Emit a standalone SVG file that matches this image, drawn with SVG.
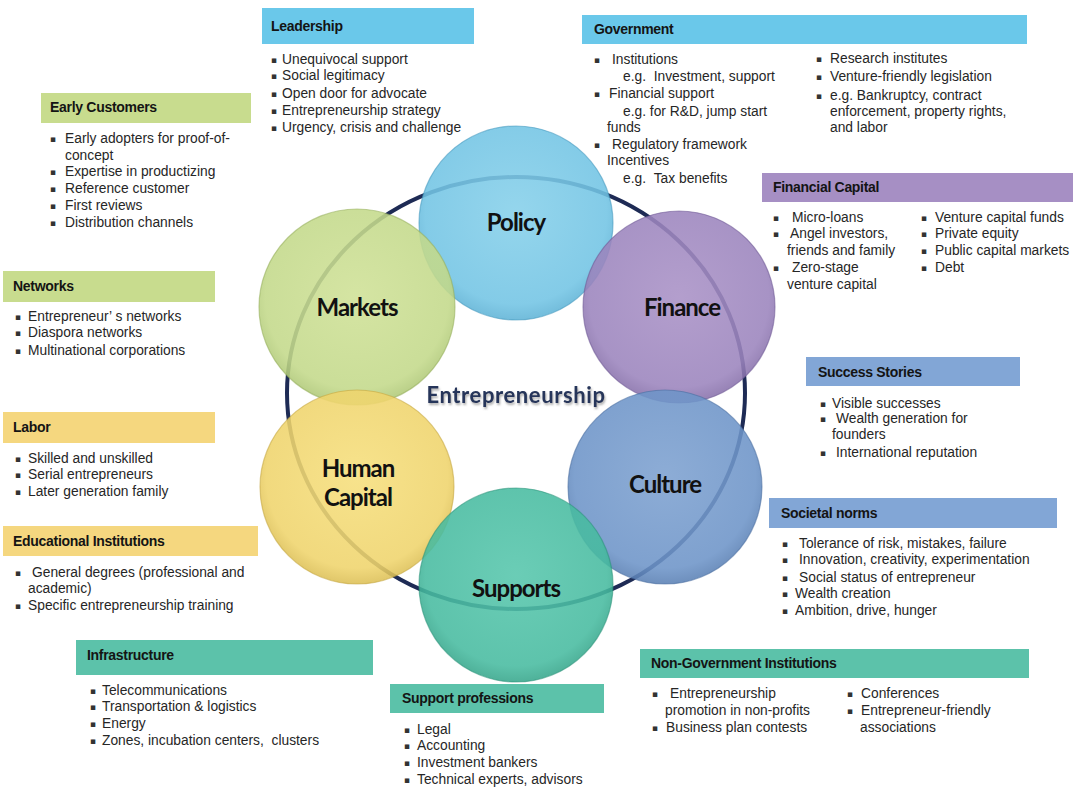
<svg xmlns="http://www.w3.org/2000/svg" width="1073" height="787" viewBox="0 0 1073 787">
<style>
.t{font-family:"Liberation Sans",Arial,sans-serif;font-size:13.8px;fill:#262626}
.b{font-family:"DejaVu Sans",sans-serif;font-size:9px;fill:#333}
.h{font-family:"Liberation Sans",Arial,sans-serif;font-size:14px;font-weight:bold;fill:#141414;letter-spacing:-0.3px}
.c{font-family:Lato,"Open Sans",sans-serif;font-size:24px;font-weight:bold;fill:#111;text-anchor:middle;letter-spacing:-1px}
.e{font-family:Lato,"Open Sans",sans-serif;font-size:22px;font-weight:bold;fill:#26365a;text-anchor:middle;letter-spacing:0.6px}
.circ{fill-opacity:0.88;stroke-width:1.2;stroke-opacity:0.55}
</style>
<defs>
<radialGradient id="gPol" cx="50%" cy="45%" r="55%"><stop offset="0" stop-color="#86d0ea"/><stop offset="0.85" stop-color="#72c4e4"/><stop offset="1" stop-color="#5fb3d6"/></radialGradient>
<radialGradient id="gMar" cx="50%" cy="45%" r="55%"><stop offset="0" stop-color="#cfe196"/><stop offset="0.85" stop-color="#c3d98a"/><stop offset="1" stop-color="#afc877"/></radialGradient>
<radialGradient id="gFin" cx="50%" cy="45%" r="55%"><stop offset="0" stop-color="#a991c6"/><stop offset="0.85" stop-color="#9b84bd"/><stop offset="1" stop-color="#8770aa"/></radialGradient>
<radialGradient id="gHum" cx="50%" cy="45%" r="55%"><stop offset="0" stop-color="#f6df7c"/><stop offset="0.85" stop-color="#efd46c"/><stop offset="1" stop-color="#dcbf55"/></radialGradient>
<radialGradient id="gCul" cx="50%" cy="45%" r="55%"><stop offset="0" stop-color="#7da1d0"/><stop offset="0.85" stop-color="#6d94c8"/><stop offset="1" stop-color="#5a80b4"/></radialGradient>
<radialGradient id="gSup" cx="50%" cy="45%" r="55%"><stop offset="0" stop-color="#56c6ac"/><stop offset="0.85" stop-color="#47bba0"/><stop offset="1" stop-color="#36a68b"/></radialGradient>
<filter id="sh" x="-10%" y="-30%" width="120%" height="160%"><feDropShadow dx="1" dy="2" stdDeviation="1.2" flood-color="#555" flood-opacity="0.5"/></filter>
</defs>
<rect width="1073" height="787" fill="#ffffff"/>

<g id="connectors">
<ellipse cx="516" cy="393" rx="229" ry="216" fill="none" stroke="#1e2b55" stroke-width="4"/>
</g>

<g id="circle-policy"><circle class="circ" cx="516" cy="223" r="97" fill="url(#gPol)" stroke="#3f95bb"/><text class="c" x="516" y="231">Policy</text></g>
<g id="circle-markets"><circle class="circ" cx="357" cy="307" r="98" fill="url(#gMar)" stroke="#93ad5a"/><text class="c" x="357" y="316">Markets</text></g>
<g id="circle-finance"><circle class="circ" cx="679" cy="307" r="96" fill="url(#gFin)" stroke="#6e5893"/><text class="c" x="682" y="316">Finance</text></g>
<g id="circle-human"><circle class="circ" cx="357" cy="487" r="97" fill="url(#gHum)" stroke="#c2a43c"/><text class="c" x="358" y="477">Human</text><text class="c" x="358" y="506">Capital</text></g>
<g id="circle-culture"><circle class="circ" cx="665" cy="487" r="97" fill="url(#gCul)" stroke="#476c9e"/><text class="c" x="665" y="493">Culture</text></g>
<g id="circle-supports"><circle class="circ" cx="516" cy="585" r="97" fill="url(#gSup)" stroke="#2a9178"/><text class="c" x="516" y="597">Supports</text></g>
<g id="center"><text class="e" x="516" y="403" filter="url(#sh)">Entrepreneurship</text></g>

<g id="leadership">
<rect x="262" y="8" width="212" height="36" fill="#6ac8ea"/>
<text class="h" x="271" y="31">Leadership</text>
<text class="b" x="271" y="63">▪</text><text class="t" x="282" y="64">Unequivocal support</text>
<text class="b" x="271" y="79">▪</text><text class="t" x="282" y="80">Social legitimacy</text>
<text class="b" x="271" y="97">▪</text><text class="t" x="282" y="98">Open door for advocate</text>
<text class="b" x="271" y="114">▪</text><text class="t" x="282" y="115">Entrepreneurship strategy</text>
<text class="b" x="271" y="131">▪</text><text class="t" x="282" y="132">Urgency, crisis and challenge</text>
</g>

<g id="government">
<rect x="582" y="15" width="445" height="29" fill="#6ac8ea"/>
<text class="h" x="594" y="34">Government</text>
<text class="b" x="594" y="63">▪</text><text class="t" x="612" y="64">Institutions</text>
<text class="t" x="623" y="81">e.g. &#160;Investment, support</text>
<text class="b" x="594" y="97">▪</text><text class="t" x="609" y="98">Financial support</text>
<text class="t" x="623" y="116">e.g. for R&amp;D, jump start</text>
<text class="t" x="607" y="132">funds</text>
<text class="b" x="594" y="148">▪</text><text class="t" x="612" y="149">Regulatory framework</text>
<text class="t" x="607" y="165">Incentives</text>
<text class="t" x="623" y="183">e.g. &#160;Tax benefits</text>
<text class="b" x="816" y="62">▪</text><text class="t" x="830" y="63">Research institutes</text>
<text class="b" x="816" y="80">▪</text><text class="t" x="830" y="81">Venture-friendly legislation</text>
<text class="b" x="816" y="99">▪</text><text class="t" x="830" y="100">e.g. Bankruptcy, contract</text>
<text class="t" x="830" y="116">enforcement, property rights,</text>
<text class="t" x="830" y="132">and labor</text>
</g>

<g id="early-customers">
<rect x="41" y="93" width="210" height="30" fill="#c8dc8e"/>
<text class="h" x="50" y="112">Early Customers</text>
<text class="b" x="50" y="142">▪</text><text class="t" x="65" y="143">Early adopters for proof-of-</text>
<text class="t" x="65" y="160">concept</text>
<text class="b" x="50" y="175">▪</text><text class="t" x="65" y="176">Expertise in productizing</text>
<text class="b" x="50" y="192">▪</text><text class="t" x="65" y="193">Reference customer</text>
<text class="b" x="50" y="209">▪</text><text class="t" x="65" y="210">First reviews</text>
<text class="b" x="50" y="226">▪</text><text class="t" x="65" y="227">Distribution channels</text>
</g>

<g id="financial-capital">
<rect x="762" y="173" width="311" height="29" fill="#a68fc4"/>
<text class="h" x="773" y="192">Financial Capital</text>
<text class="b" x="773" y="221">▪</text><text class="t" x="792" y="222">Micro-loans</text>
<text class="b" x="773" y="237">▪</text><text class="t" x="790" y="238">Angel investors,</text>
<text class="t" x="787" y="255">friends and family</text>
<text class="b" x="773" y="271">▪</text><text class="t" x="792" y="272">Zero-stage</text>
<text class="t" x="787" y="289">venture capital</text>
<text class="b" x="921" y="221">▪</text><text class="t" x="935" y="222">Venture capital funds</text>
<text class="b" x="921" y="237">▪</text><text class="t" x="935" y="238">Private equity</text>
<text class="b" x="921" y="254">▪</text><text class="t" x="935" y="255">Public capital markets</text>
<text class="b" x="921" y="271">▪</text><text class="t" x="935" y="272">Debt</text>
</g>

<g id="networks">
<rect x="3" y="271" width="212" height="31" fill="#c8dc8e"/>
<text class="h" x="13" y="291">Networks</text>
<text class="b" x="15" y="320">▪</text><text class="t" x="28" y="321">Entrepreneur’ s networks</text>
<text class="b" x="15" y="336">▪</text><text class="t" x="28" y="337">Diaspora networks</text>
<text class="b" x="15" y="354">▪</text><text class="t" x="28" y="355">Multinational corporations</text>
</g>

<g id="labor">
<rect x="3" y="412" width="212" height="31" fill="#f5d77f"/>
<text class="h" x="13" y="432">Labor</text>
<text class="b" x="15" y="462">▪</text><text class="t" x="28" y="463">Skilled and unskilled</text>
<text class="b" x="15" y="478">▪</text><text class="t" x="28" y="479">Serial entrepreneurs</text>
<text class="b" x="15" y="495">▪</text><text class="t" x="28" y="496">Later generation family</text>
</g>

<g id="educational-institutions">
<rect x="3" y="526" width="255" height="30" fill="#f5d77f"/>
<text class="h" x="13" y="546">Educational Institutions</text>
<text class="b" x="15" y="576">▪</text><text class="t" x="32" y="577">General degrees (professional and</text>
<text class="t" x="28" y="593">academic)</text>
<text class="b" x="15" y="609">▪</text><text class="t" x="28" y="610">Specific entrepreneurship training</text>
</g>

<g id="infrastructure">
<rect x="76" y="640" width="297" height="35" fill="#5cc2aa"/>
<text class="h" x="87" y="660">Infrastructure</text>
<text class="b" x="90" y="694">▪</text><text class="t" x="102" y="695">Telecommunications</text>
<text class="b" x="90" y="710">▪</text><text class="t" x="102" y="711">Transportation &amp; logistics</text>
<text class="b" x="90" y="727">▪</text><text class="t" x="102" y="728">Energy</text>
<text class="b" x="90" y="744">▪</text><text class="t" x="102" y="745">Zones, incubation centers, &#160;clusters</text>
</g>

<g id="support-professions">
<rect x="390" y="684" width="214" height="29" fill="#5cc2aa"/>
<text class="h" x="402" y="703">Support professions</text>
<text class="b" x="404" y="733">▪</text><text class="t" x="417" y="734">Legal</text>
<text class="b" x="404" y="749">▪</text><text class="t" x="417" y="750">Accounting</text>
<text class="b" x="404" y="766">▪</text><text class="t" x="417" y="767">Investment bankers</text>
<text class="b" x="404" y="783">▪</text><text class="t" x="417" y="784">Technical experts, advisors</text>
</g>

<g id="non-government-institutions">
<rect x="640" y="649" width="389" height="29" fill="#5cc2aa"/>
<text class="h" x="651" y="668">Non-Government Institutions</text>
<text class="b" x="652" y="697">▪</text><text class="t" x="670" y="698">Entrepreneurship</text>
<text class="t" x="665" y="715">promotion in non-profits</text>
<text class="b" x="652" y="731">▪</text><text class="t" x="666" y="732">Business plan contests</text>
<text class="b" x="847" y="697">▪</text><text class="t" x="861" y="698">Conferences</text>
<text class="b" x="847" y="714">▪</text><text class="t" x="861" y="715">Entrepreneur-friendly</text>
<text class="t" x="860" y="732">associations</text>
</g>

<g id="success-stories">
<rect x="806" y="357" width="214" height="29" fill="#82a6d6"/>
<text class="h" x="818" y="377">Success Stories</text>
<text class="b" x="820" y="407">▪</text><text class="t" x="832" y="408">Visible successes</text>
<text class="b" x="820" y="422">▪</text><text class="t" x="836" y="423">Wealth generation for</text>
<text class="t" x="832" y="439">founders</text>
<text class="b" x="820" y="456">▪</text><text class="t" x="836" y="457">International reputation</text>
</g>

<g id="societal-norms">
<rect x="769" y="498" width="288" height="30" fill="#82a6d6"/>
<text class="h" x="781" y="518">Societal norms</text>
<text class="b" x="782" y="547">▪</text><text class="t" x="799" y="548">Tolerance of risk, mistakes, failure</text>
<text class="b" x="782" y="563">▪</text><text class="t" x="799" y="564">Innovation, creativity, experimentation</text>
<text class="b" x="782" y="581">▪</text><text class="t" x="799" y="582">Social status of entrepreneur</text>
<text class="b" x="782" y="597">▪</text><text class="t" x="795" y="598">Wealth creation</text>
<text class="b" x="782" y="614">▪</text><text class="t" x="795" y="615">Ambition, drive, hunger</text>
</g>
</svg>
